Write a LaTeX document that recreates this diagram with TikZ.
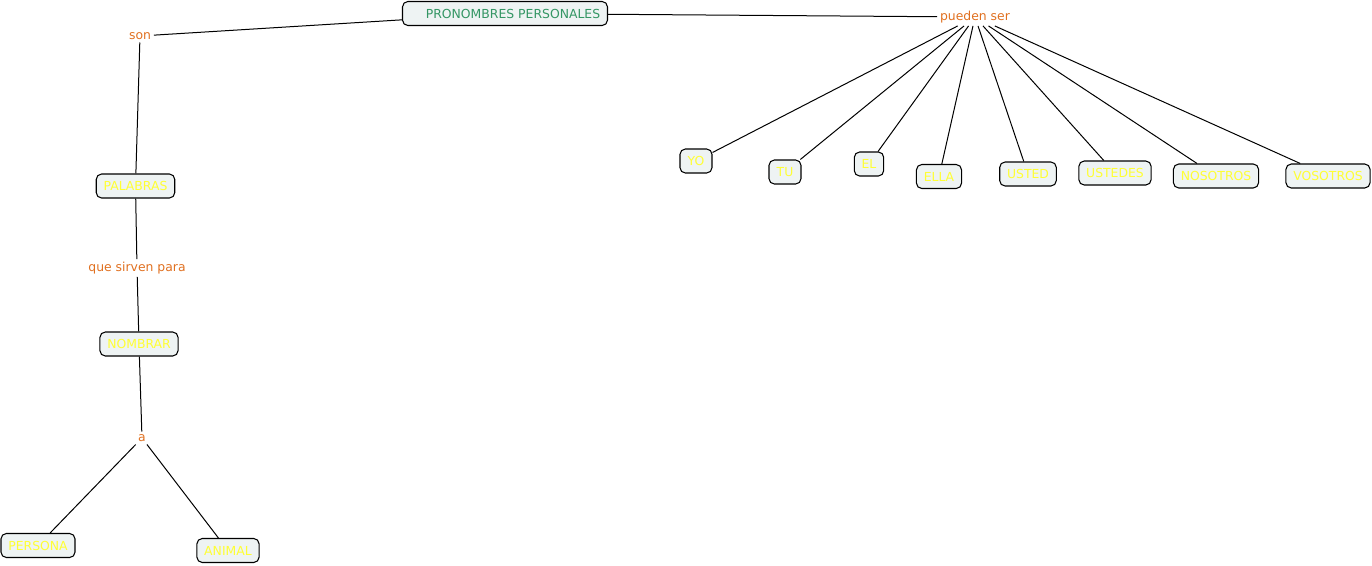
\documentclass[tikz,border=0pt]{standalone}
\usepackage{fontspec}
\setmainfont{DejaVu Sans}
\usetikzlibrary{positioning}
\definecolor{boxfill}{RGB}{238,243,243}
\definecolor{conceptyellow}{RGB}{255,255,51}
\definecolor{linkorange}{RGB}{224,112,32}
\definecolor{titlegreen}{RGB}{52,150,100}

\begin{document}
\begin{tikzpicture}[x=0.75pt, y=-0.75pt,
  concept/.style={draw=black, fill=boxfill, rounded corners=4pt, thick,
    minimum height=18pt, inner xsep=5.5pt, inner ysep=2pt,
    font=\fontsize{9.3}{11}\selectfont, text=conceptyellow},
  linkword/.style={inner sep=2pt, font=\fontsize{9.3}{11}\selectfont, text=linkorange},
  link/.style={draw=black, line width=0.75pt}
]
\useasboundingbox (0,0) rectangle (1372,565);
% root
\node[concept, text=titlegreen, minimum width=151pt] (root) at (505,13.5) {\hspace*{12pt}PRONOMBRES PERSONALES};
% left branch
\node[linkword] (son) at (140,36) {son};
\node[concept] (palabras) at (135.5,186) {PALABRAS};
\node[linkword] (sirven) at (137,268) {que sirven para};
\node[concept] (nombrar) at (139,344) {NOMBRAR};
\node[linkword] (a) at (142,438) {a};
\node[concept] (persona) at (38,545.5) {PERSONA};
\node[concept] (animal) at (228,550.5) {ANIMAL};
% right branch
\node[linkword] (pueden) at (975,17) {pueden ser};
\node[concept, minimum width=24pt] (yo) at (696,161) {YO};
\node[concept, minimum width=24pt] (tu) at (785,172) {TU};
\node[concept, minimum width=22pt] (el) at (869,164) {EL};
\node[concept] (ella) at (939,176.5) {ELLA};
\node[concept] (usted) at (1028,174) {USTED};
\node[concept] (ustedes) at (1115,173) {USTEDES};
\node[concept] (nosotros) at (1216,176) {NOSOTROS};
\node[concept] (vosotros) at (1328,176) {VOSOTROS};

\draw[link] (root) -- (son);
\draw[link] (son) -- (palabras);
\draw[link] (palabras) -- (sirven);
\draw[link] (sirven) -- (nombrar);
\draw[link] (nombrar) -- (a);
\draw[link] (a) -- (persona);
\draw[link] (a) -- (animal);
\draw[link] (root) -- (pueden);
\foreach \leaf in {yo,tu,el,ella,usted,ustedes,nosotros,vosotros}
  \draw[link] (pueden) -- (\leaf);
\end{tikzpicture}
\end{document}
